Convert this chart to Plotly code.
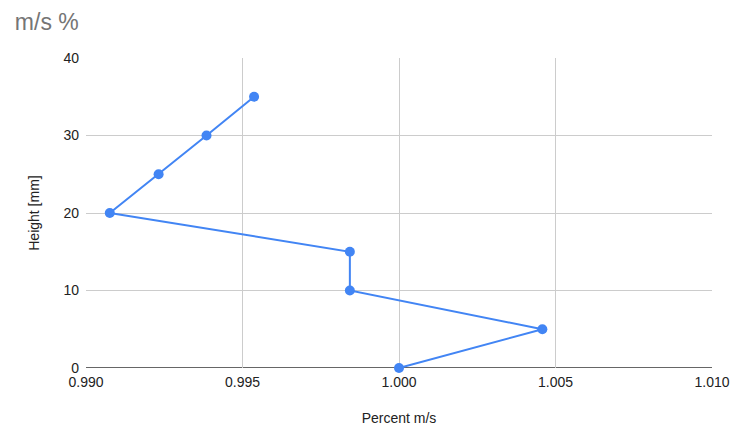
import plotly.graph_objects as go

# Values
percent_ms = [1.0000, 1.00458, 0.99843, 0.99843, 0.99076, 0.99232, 0.99385, 0.99537]
height_mm = [0, 5, 10, 15, 20, 25, 30, 35]

x_ticks = [0.990, 0.995, 1.000, 1.005, 1.010]
y_ticks = [0, 10, 20, 30, 40]

fig = go.Figure()

fig.add_trace(go.Scatter(
    x=percent_ms,
    y=height_mm,
    mode="lines+markers",
    line=dict(color="#4285F4", width=2),
    marker=dict(color="#4285F4", size=10),
    cliponaxis=False,
    showlegend=False,
))

fig.update_layout(
    width=742,
    height=438,
    margin=dict(l=86, r=21, t=58, b=70),
    paper_bgcolor="white",
    plot_bgcolor="white",
    font=dict(family="Arial, Liberation Sans, sans-serif", size=14, color="#222222"),
    title=dict(
        text="m/s %",
        x=0.02, xanchor="left",
        y=0.95, yanchor="middle",
        font=dict(family="Arial, Liberation Sans, sans-serif", size=23, color="#757575"),
    ),
)

fig.update_xaxes(
    range=[0.990, 1.010],
    tickvals=x_ticks,
    ticktext=[f"{v:.3f}" for v in x_ticks],
    showgrid=True,
    gridcolor="#cccccc",
    gridwidth=1,
    zeroline=False,
    showline=False,
    ticks="",
    ticklabelstandoff=4,
    title=dict(text="Percent m/s", font=dict(size=14, color="#222222"), standoff=24),
)

fig.update_yaxes(
    range=[0, 40],
    tickvals=y_ticks,
    showgrid=True,
    gridcolor="#cccccc",
    gridwidth=1,
    zeroline=False,
    showline=False,
    ticks="",
    ticklabelstandoff=6,
    title=dict(text="Height [mm]", font=dict(size=14, color="#222222"), standoff=20),
)

# darker baseline along y = 0
fig.add_shape(type="line", xref="paper", yref="y", x0=0, x1=1, y0=0, y1=0,
              line=dict(color="#333333", width=1.5), layer="below")

# drop the default body margin so the figure sits at the window's corner
fig.write_html(
    "out.html",
    config={"displayModeBar": False},
    post_script="document.body.style.margin='0';document.body.style.overflow='hidden';",
)
